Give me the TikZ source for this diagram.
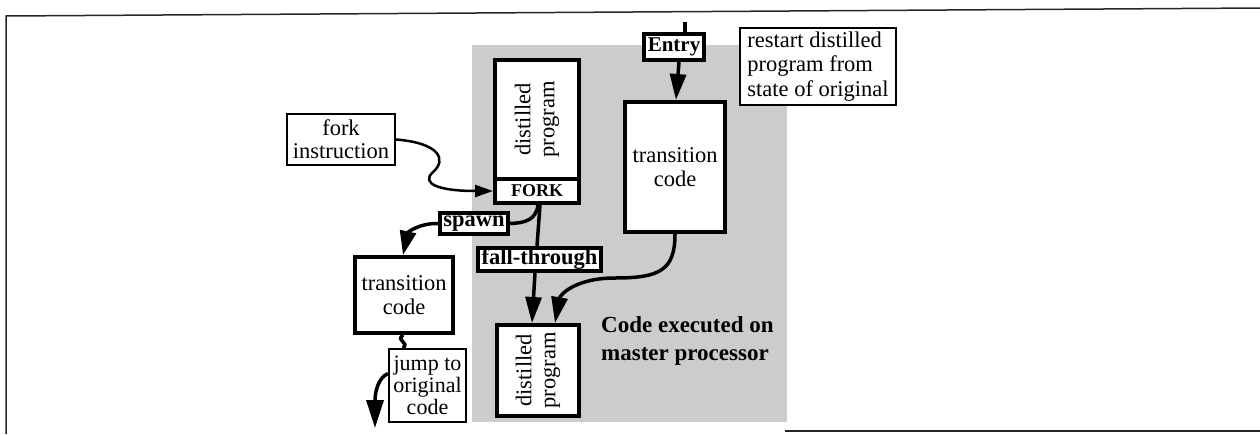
\documentclass[tikz,border=0pt]{standalone}
\usepackage{fontspec}
\setmainfont{Liberation Serif}
\usetikzlibrary{arrows.meta}
\begin{document}
\begin{tikzpicture}[x=1pt,y=1pt,
  thickbox/.style={draw, line width=4pt, fill=white, inner sep=0pt, align=center, font=\fontsize{22.5}{24}\selectfont},
  thinbox/.style={draw, line width=2pt, fill=white, inner sep=0pt, align=center, font=\fontsize{22.5}{23}\selectfont},
  boldlab/.style={thickbox, font=\fontsize{22.5}{24}\selectfont\bfseries},
  conn/.style={line width=3.5pt},
  bigarrow/.style={conn, -{Triangle[length=26pt,width=16pt]}},
  frameline/.style={line width=1.5pt, black!85}
]
\useasboundingbox (0,0) rectangle (1260,-434);
% shaded region
\fill[black!20] (472,-45) rectangle (787,-422);
% frame
\draw[frameline] (6,-434) -- (6,-16) -- (1260,-8);
\draw[frameline] (785,-431) -- (1260,-431);

% nodes
\node[thickbox, rotate=90, minimum width=119, minimum height=84] (distA) at (537,-119.5) {distilled\\program};
\node[boldlab, font=\fontsize{18}{20}\selectfont\bfseries, minimum width=84, minimum height=24] (fork) at (537,-191) {FORK};
\node[thinbox, minimum width=108, minimum height=51] (forkinstr) at (341,-139.5) {fork\\instruction};
\node[boldlab, font=\fontsize{21}{23}\selectfont\bfseries, minimum width=60, minimum height=26] (entry) at (674,-47) {Entry};
\node[thickbox, minimum width=100, minimum height=130] (trR) at (675,-167) {transition\\code};
\node[thinbox, align=left, font=\fontsize{22.5}{24.5}\selectfont, minimum width=156, minimum height=77] (restart) at (818,-66.5) {restart distilled\\program from\\state of original};
\node[boldlab, minimum width=68, minimum height=21] (spawn) at (474,-223.5) {spawn};
\node[boldlab, minimum width=123, minimum height=23] (fall) at (539.5,-259.5) {fall-through};
\node[thickbox, minimum width=98, minimum height=76] (trL) at (404,-295) {transition\\code};
\node[thinbox, font=\fontsize{22}{22}\selectfont, minimum width=77, minimum height=73] (jump) at (427.5,-385.5) {jump to\\original\\code};
\node[thickbox, rotate=90, minimum width=91, minimum height=82] (distB) at (538,-370.5) {distilled\\program};
\node[anchor=west, align=left, inner sep=0pt, font=\fontsize{23}{28}\selectfont\bfseries] (codelab) at (601,-341) {Code executed on\\master processor};

% connectors
\coordinate (entryin) at (685,-22);
\draw[conn] (entryin) -- (entryin |- entry.north);
\draw[bigarrow] ([xshift=5pt]entry.south) -- ([xshift=1pt]trR.north);

\draw[line width=2.5pt, -{Triangle[length=18pt,width=12pt]}] (forkinstr.east) .. controls (440,-143) and (447,-160) .. (433,-172) .. controls (420,-184) and (440,-191) .. (fork.west);

\draw[conn] ([xshift=1pt]fork.south) .. controls (536,-220) and (525,-223) .. (spawn.east);
\draw[conn, -{Triangle[length=24pt,width=16pt]}] (spawn.west) .. controls (420,-223) and (408,-232) .. ([xshift=-1pt]trL.north);

\draw[conn] ([xshift=3pt]fork.south) -- ([xshift=-2.5pt]fall.north);
\draw[bigarrow] ([xshift=-4.5pt]fall.south) -- ([xshift=-6pt]distB.east);

\draw[bigarrow] (trR.south) .. controls (675,-270) and (660,-278) .. (615,-278) .. controls (575,-278) and (560,-295) .. ([xshift=17pt]distB.east);

\draw[conn] ([xshift=-1pt]trL.south) .. controls (395,-341) and (410,-342) .. ([xshift=-24.5pt]jump.north);

\coordinate (jumpend) at (375,-428);
\draw[conn, -{Triangle[length=28pt,width=17pt]}] ([yshift=12pt]jump.west) .. controls (378,-378) and (375,-392) .. (jumpend);
\end{tikzpicture}
\end{document}
